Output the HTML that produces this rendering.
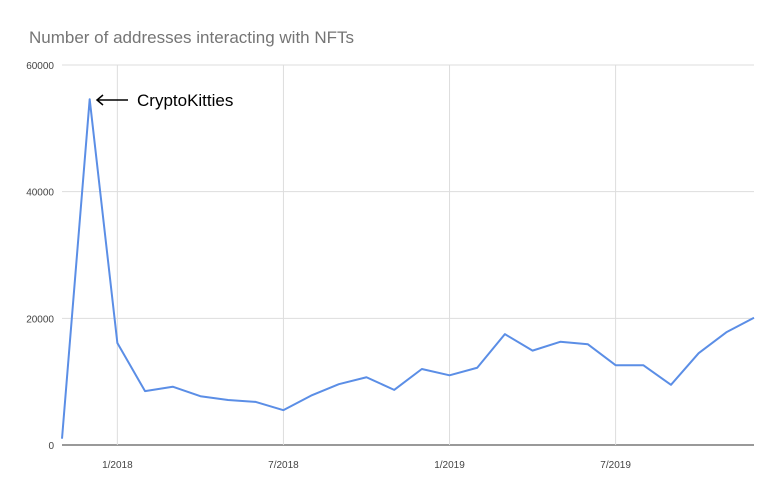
<!DOCTYPE html>
<html><head><meta charset="utf-8"><style>
body{margin:0;background:#fff;width:777px;height:493px;overflow:hidden;font-family:"Liberation Sans",sans-serif}
</style></head><body>
<svg id="c" width="777" height="493" xmlns="http://www.w3.org/2000/svg">
<text x="29" y="43" font-size="17" fill="#757575">Number of addresses interacting with NFTs</text>
<g id="grid"></g><g id="lbl"></g>
<polyline id="line" fill="none" stroke="#5b8ee6" stroke-width="2" stroke-linejoin="round"/>
<g>
<line x1="97" y1="100" x2="128" y2="100" stroke="#000" stroke-width="1.5"/>
<path d="M103 95 L97 100 L103 105" fill="none" stroke="#000" stroke-width="1.5"/>
<text x="137" y="106" font-size="17" fill="#000">CryptoKitties</text>
</g>
</svg>
<script>
const values=[1000,54600,16100,8500,9200,7700,7100,6800,5500,7800,9600,10700,8700,12000,11000,12200,17500,14900,16300,15900,12600,12600,9500,14500,17800,20100];
const yTicks=[0,20000,40000,60000];
const xTickIdx=[2,8,14,20];
const xTickLabels=["1/2018","7/2018","1/2019","7/2019"];
const x0=62,x1=754,yb=445,yt=65;
const X=i=>x0+i*(x1-x0)/(values.length-1);
const Y=v=>yb-(v/60000)*(yb-yt);
const ns="http://www.w3.org/2000/svg";
const g=document.getElementById('grid'),l=document.getElementById('lbl');
yTicks.forEach(t=>{
 const ln=document.createElementNS(ns,'line');
 
 
 ln.setAttribute('x1',x0);ln.setAttribute('x2',x1);ln.setAttribute('y1',Y(t));ln.setAttribute('y2',Y(t));
 ln.setAttribute('stroke',t===0?'#333':'#ddd');ln.setAttribute('stroke-width','1');g.appendChild(ln);
 const tx=document.createElementNS(ns,'text');
 
 
 tx.setAttribute('x',54);tx.setAttribute('y',Y(t)+4);tx.setAttribute('text-anchor','end');tx.setAttribute('font-size','10');tx.setAttribute('fill','#444');tx.textContent=t;l.appendChild(tx);
});
xTickIdx.forEach((i,k)=>{
 const ln=document.createElementNS(ns,'line');
 
 
 ln.setAttribute('x1',X(i));ln.setAttribute('x2',X(i));ln.setAttribute('y1',yt);ln.setAttribute('y2',yb);
 ln.setAttribute('stroke','#ddd');g.appendChild(ln);
 const tx=document.createElementNS(ns,'text');
 
 
 tx.setAttribute('x',X(i));tx.setAttribute('y',468);tx.setAttribute('text-anchor','middle');tx.setAttribute('font-size','10');tx.setAttribute('fill','#444');tx.textContent=xTickLabels[k];l.appendChild(tx);
});
document.getElementById('line').setAttribute('points',values.map((v,i)=>X(i)+','+Y(v)).join(' '));
</script>
</body></html>
